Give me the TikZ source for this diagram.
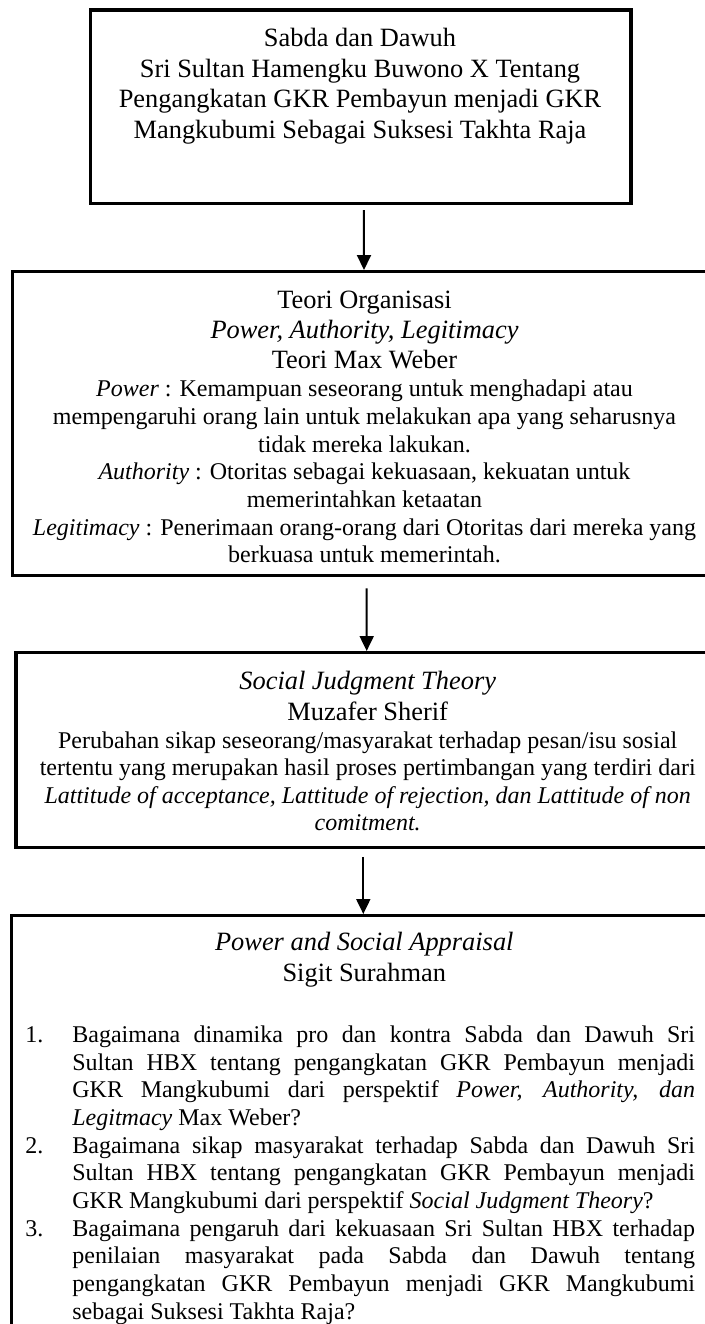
\documentclass[tikz,border=0pt]{standalone}
\usepackage{fontspec}
\setmainfont{Liberation Serif}
\usetikzlibrary{arrows.meta}
\begin{document}
% Coordinates are given in pixels of a 705 x 1324 page, y pointing down.
\begin{tikzpicture}[x=0.5pt, y=-0.5pt,
  box/.style={draw, line width=1.7pt, inner sep=0pt},
  hd/.style={anchor=base, inner sep=0pt, font=\fontsize{13.2}{15.2}\selectfont},
  bd/.style={anchor=base, inner sep=0pt, font=\fontsize{12}{13.8}\selectfont},
  li/.style={anchor=base west, inner sep=0pt, font=\fontsize{12}{13.8}\selectfont},
  arr/.style={-{Triangle[width=7pt,length=7.5pt]}, line width=1pt}]
\useasboundingbox (0,0) rectangle (705,1324);
\clip (0,0) rectangle (705,1324);

% ---- frames ----
\node[box, minimum width=270.25pt, minimum height=96.85pt] (b1) at (360.75,106.85) {};
\node[box, minimum width=351.8pt, minimum height=152pt] (b2) at (364.5,423.7) {};
\node[box, minimum width=351.7pt, minimum height=97.5pt] (b3) at (367.7,750.2) {};
\node[box, minimum width=352.65pt, minimum height=242pt] (b4) at (364.3,1157.7) {};

% ---- connectors ----
\draw[arr] ([xshift=1.6pt,yshift=-2.35pt]b1.south) -- ([xshift=-0.25pt]b2.north);
\draw[arr] ([xshift=1.1pt,yshift=-5.5pt]b2.south) -- ([xshift=-0.5pt]b3.north);
\draw[arr] ([xshift=-2.2pt,yshift=-3.7pt]b3.south) -- ([xshift=-0.5pt]b4.north);

% ---- first frame ----
\node[hd] (t1a) at (360,46.5) {Sabda dan Dawuh};
\node[hd] (t1b) at (360,77) {Sri Sultan Hamengku Buwono X Tentang};
\node[hd] (t1c) at (360,107.5) {Pengangkatan GKR Pembayun menjadi GKR};
\node[hd] (t1d) at (360,138) {Mangkubumi Sebagai Suksesi Takhta Raja};

% ---- second frame ----
\node[hd] (t2a) at (364.5,308.3) {Teori Organisasi};
\node[hd] (t2b) at (364.5,338.5) {\textit{Power, Authority, Legitimacy}};
\node[hd] (t2c) at (364.5,368.7) {Teori Max Weber};
\node[bd] (t2d) at (364.5,396.7) {\textit{Power} : Kemampuan seseorang untuk menghadapi atau};
\node[bd] (t2e) at (364.5,424.4) {mempengaruhi orang lain untuk melakukan apa yang seharusnya};
\node[bd] (t2f) at (364.5,452.1) {tidak mereka lakukan.};
\node[bd] (t2g) at (364.5,479.8) {\textit{Authority} : Otoritas sebagai kekuasaan, kekuatan untuk};
\node[bd] (t2h) at (364.5,507.5) {memerintahkan ketaatan};
\node[bd] (t2i) at (364.5,535.2) {\textit{Legitimacy} : Penerimaan orang-orang dari Otoritas dari mereka yang};
\node[bd] (t2j) at (364.5,562.9) {berkuasa untuk memerintah.};

% ---- third frame ----
\node[hd] (t3a) at (367.7,689.5) {\textit{Social Judgment Theory}};
\node[hd] (t3b) at (367.7,720) {Muzafer Sherif};
\node[bd] (t3c) at (367.7,748.3) {Perubahan sikap seseorang/masyarakat terhadap pesan/isu sosial};
\node[bd] (t3d) at (367.7,775.8) {tertentu yang merupakan hasil proses pertimbangan yang terdiri dari};
\node[bd] (t3e) at (367.7,803.3) {\textit{Lattitude of acceptance, Lattitude of rejection, dan Lattitude of non}};
\node[bd] (t3f) at (367.7,830.8) {\textit{comitment.}};

% ---- fourth frame ----
\node[hd] (t4a) at (364.3,950) {\textit{Power and Social Appraisal}};
\node[hd] (t4b) at (364.3,981.7) {Sigit Surahman};

\node[li] (n1) at (25,1042.7) {1.};
\node[li] (n2) at (25,1042.7+27.63*4) {2.};
\node[li] (n3) at (25,1042.7+27.63*7) {3.};

\node[li] (q1a) at (72,1042.7) {\makebox[311.35pt][s]{Bagaimana dinamika pro dan kontra Sabda dan Dawuh Sri}};
\node[li] (q1b) at (72,1042.7+27.63) {\makebox[311.35pt][s]{Sultan HBX tentang pengangkatan GKR Pembayun menjadi}};
\node[li] (q1c) at (72,1042.7+27.63*2) {\makebox[311.35pt][s]{GKR Mangkubumi dari perspektif \textit{Power, Authority, dan}}};
\node[li] (q1d) at (72,1042.7+27.63*3) {\textit{Legitmacy} Max Weber?};
\node[li] (q2a) at (72,1042.7+27.63*4) {\makebox[311.35pt][s]{Bagaimana sikap masyarakat terhadap Sabda dan Dawuh Sri}};
\node[li] (q2b) at (72,1042.7+27.63*5) {\makebox[311.35pt][s]{Sultan HBX tentang pengangkatan GKR Pembayun menjadi}};
\node[li] (q2c) at (72,1042.7+27.63*6) {GKR Mangkubumi dari perspektif \textit{Social Judgment Theory}?};
\node[li] (q3a) at (72,1042.7+27.63*7) {\makebox[311.35pt][s]{Bagaimana pengaruh dari kekuasaan Sri Sultan HBX terhadap}};
\node[li] (q3b) at (72,1042.7+27.63*8) {\makebox[311.35pt][s]{penilaian masyarakat pada Sabda dan Dawuh tentang}};
\node[li] (q3c) at (72,1042.7+27.63*9) {\makebox[311.35pt][s]{pengangkatan GKR Pembayun menjadi GKR Mangkubumi}};
\node[li] (q3d) at (72,1042.7+27.63*10) {sebagai Suksesi Takhta Raja?};
\end{tikzpicture}
\end{document}
